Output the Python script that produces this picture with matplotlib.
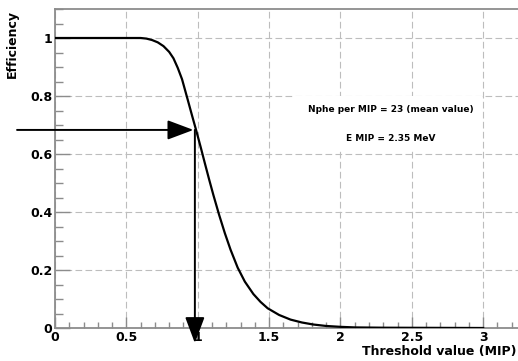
import matplotlib.pyplot as plt
from matplotlib.patches import Rectangle
from matplotlib.ticker import MultipleLocator

# efficiency vs threshold
threshold = [0.0, 0.60, 0.64, 0.68, 0.72, 0.76, 0.80, 0.83, 0.86, 0.89, 0.93, 0.96, 0.99,
             1.02, 1.05, 1.08, 1.11, 1.15, 1.19, 1.23, 1.28, 1.33, 1.39, 1.44, 1.49, 1.57,
             1.65, 1.73, 1.81, 1.90, 2.00, 2.10, 2.30, 3.00]
efficiency = [1.0, 1.0, 0.998, 0.993, 0.985, 0.972, 0.952, 0.930, 0.897, 0.858, 0.787, 0.733, 0.680,
              0.625, 0.568, 0.512, 0.458, 0.390, 0.327, 0.270, 0.208, 0.160, 0.117, 0.090, 0.068, 0.045,
              0.029, 0.019, 0.012, 0.007, 0.004, 0.002, 0.001, 0.0]

mark_x = 0.98
mark_y = 0.683
info_lines = ["Nphe per MIP = 23 (mean value)", "E MIP = 2.35 MeV"]

plt.rcParams['font.family'] = 'DejaVu Sans'
plt.rcParams['font.weight'] = 'bold'

fig = plt.figure(figsize=(5.18, 3.61), dpi=100)
ax = fig.add_axes([55 / 518, 33 / 361, 471 / 518, 319 / 361])

ax.set_xlim(0, 3.3)
ax.set_ylim(0, 1.1)

grey = "#8c8c8c"
for side in ["left", "bottom", "top", "right"]:
    ax.spines[side].set_color(grey)
    ax.spines[side].set_linewidth(1.3)

ax.xaxis.set_minor_locator(MultipleLocator(0.1))
ax.yaxis.set_minor_locator(MultipleLocator(0.05))
ax.set_xticks([0, 0.5, 1, 1.5, 2, 2.5, 3])
ax.set_xticklabels(["0", "0.5", "1", "1.5", "2", "2.5", "3"])
ax.set_yticks([0, 0.2, 0.4, 0.6, 0.8, 1.0])
ax.set_yticklabels(["0", "0.2", "0.4", "0.6", "0.8", "1"])
ax.tick_params(which="both", direction="in", color=grey, width=1.0, labelsize=9)
ax.tick_params(which="major", length=11, pad=2)
ax.tick_params(which="minor", length=6)
ax.tick_params(axis="x", which="major", length=8)
ax.tick_params(axis="x", which="minor", length=4)
ax.tick_params(top=False, right=False, which="both")

ax.grid(True, which="major", color="#bdbdbd", linestyle=(0, (6, 3)), linewidth=0.8)

# white pave behind the text
ax.add_patch(Rectangle((1.68, 0.615), 1.31, 0.185, facecolor="white", edgecolor="none", zorder=2))
ax.text(2.35, 0.752, info_lines[0], ha="center", va="center", fontsize=6.5, zorder=3)
ax.text(2.35, 0.652, info_lines[1], ha="center", va="center", fontsize=6.5, zorder=3)

ax.plot(threshold, efficiency, color="black", linewidth=1.6, zorder=4)

arrow = dict(arrowstyle="-|>,head_length=0.8,head_width=0.3", color="black",
             lw=1.4, shrinkA=0, shrinkB=0, mutation_scale=20)
ax.annotate("", xy=(mark_x - 0.01, mark_y), xytext=(-0.266, mark_y),
            arrowprops=arrow, annotation_clip=False, zorder=5)
ax.annotate("", xy=(mark_x, -0.052), xytext=(mark_x, mark_y),
            arrowprops=arrow, annotation_clip=False, zorder=5)

fig.text(12 / 518, 1 - 10 / 361, "Efficiency", rotation=90, ha="center", va="top", fontsize=9)
fig.text(516 / 518, 1 - 352 / 361, "Threshold value (MIP)", ha="right", va="center", fontsize=9)

fig.savefig("out.png", dpi=100)
